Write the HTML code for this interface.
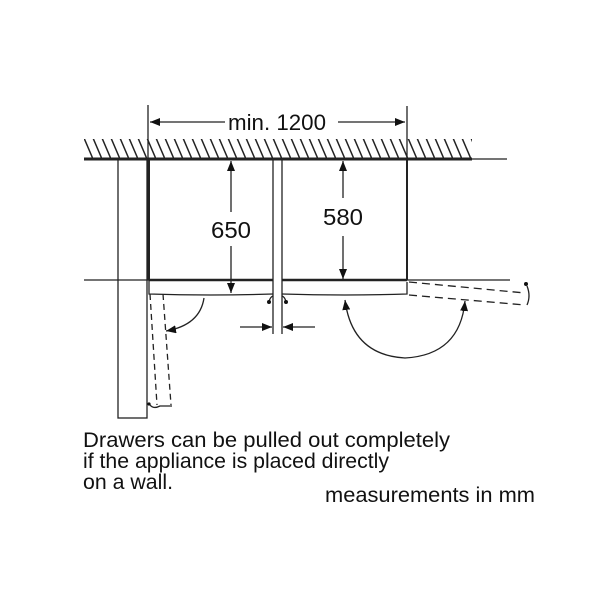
<!DOCTYPE html>
<html><head><style>html,body{margin:0;padding:0;background:#fff}svg{display:block}</style></head>
<body>
<svg width="600" height="600" viewBox="0 0 600 600" xmlns="http://www.w3.org/2000/svg">
<defs>
<pattern id="h" width="9" height="21" patternUnits="userSpaceOnUse" x="84" y="138">
<line x1="0" y1="0" x2="9" y2="21" stroke="#222" stroke-width="1.5"/>
<line x1="-9" y1="0" x2="0" y2="21" stroke="#222" stroke-width="1.5"/>
<line x1="9" y1="0" x2="18" y2="21" stroke="#222" stroke-width="1.5"/>
</pattern>
<marker id="a" markerWidth="10" markerHeight="8" refX="10" refY="4" orient="auto-start-reverse" markerUnits="userSpaceOnUse"><path d="M0,0 L10,4 L0,8z" fill="#111"/></marker>
</defs>
<g stroke="#222" fill="none" stroke-width="1.3">
<rect x="84" y="139" width="388" height="20" fill="url(#h)" stroke="none"/>
<line x1="84" y1="159" x2="472" y2="159" stroke-width="3"/>
<line x1="472" y1="159" x2="507" y2="159"/>
<line x1="148" y1="105" x2="148" y2="280"/>
<line x1="407" y1="106" x2="407" y2="280"/>
<line x1="150" y1="122" x2="225" y2="122" marker-start="url(#a)"/>
<line x1="338" y1="122" x2="405" y2="122" marker-end="url(#a)"/>
<rect x="118" y="159" width="29" height="259"/>
<line x1="149" y1="159" x2="149" y2="280" stroke-width="2"/>
<line x1="273" y1="160" x2="273" y2="334"/>
<line x1="282" y1="160" x2="282" y2="334"/>
<line x1="407" y1="160" x2="407" y2="280" stroke-width="2"/>
<line x1="84" y1="280" x2="150" y2="280"/>
<line x1="149" y1="280" x2="273" y2="280" stroke-width="2.5"/>
<line x1="282" y1="280" x2="407" y2="280" stroke-width="2.5"/>
<line x1="407" y1="280" x2="510" y2="280"/>
<path d="M149 280 V294 Q210 296 273 294"/>
<path d="M282 294 Q345 296 407 294 V282"/>
<line x1="231" y1="212" x2="231" y2="161" marker-end="url(#a)"/>
<line x1="231" y1="246" x2="231" y2="293" marker-end="url(#a)"/>
<line x1="343" y1="198" x2="343" y2="161" marker-end="url(#a)"/>
<line x1="343" y1="236" x2="343" y2="279" marker-end="url(#a)"/>
<line x1="240" y1="327" x2="272" y2="327" marker-end="url(#a)"/>
<line x1="315" y1="327" x2="283" y2="327" marker-end="url(#a)"/>
<path d="M269 302 Q270 297 273 296 M286 302 Q285 297 282 296"/>
<g stroke-dasharray="6,4">
<line x1="150" y1="294" x2="157" y2="405"/>
<line x1="163" y1="294" x2="171" y2="405"/>
</g>
<path d="M149 403 Q152 410 160 406 L172 406"/>
<path d="M204 298 Q200 325 166 331" marker-end="url(#a)"/>
<g stroke-dasharray="8,5">
<line x1="409" y1="282" x2="525" y2="293"/>
<line x1="409" y1="295" x2="525" y2="305"/>
</g>
<path d="M527 286 Q531 296 527 305"/>
<path d="M345 300 Q352 355 405 358 Q460 355 465 301" marker-start="url(#a)" marker-end="url(#a)"/>
</g>
<g fill="#111" stroke="none">
<circle cx="269" cy="302" r="2"/><circle cx="286" cy="302" r="2"/><circle cx="526" cy="284" r="2"/><circle cx="149" cy="404" r="1.6"/>
</g>
<g font-family="Liberation Sans, sans-serif" fill="#111">
<text x="228" y="130" font-size="22" textLength="98" lengthAdjust="spacingAndGlyphs">min. 1200</text>
<text x="211" y="238" font-size="23" textLength="40" lengthAdjust="spacingAndGlyphs">650</text>
<text x="323" y="225" font-size="23" textLength="40" lengthAdjust="spacingAndGlyphs">580</text>
<text x="83" y="447" font-size="21" textLength="367" lengthAdjust="spacingAndGlyphs">Drawers can be pulled out completely</text>
<text x="83" y="468" font-size="21" textLength="306" lengthAdjust="spacingAndGlyphs">if the appliance is placed directly</text>
<text x="83" y="489" font-size="21" textLength="90" lengthAdjust="spacingAndGlyphs">on a wall.</text>
<text x="325" y="502" font-size="21" textLength="210" lengthAdjust="spacingAndGlyphs">measurements in mm</text>
</g>
</svg>
</body></html>
